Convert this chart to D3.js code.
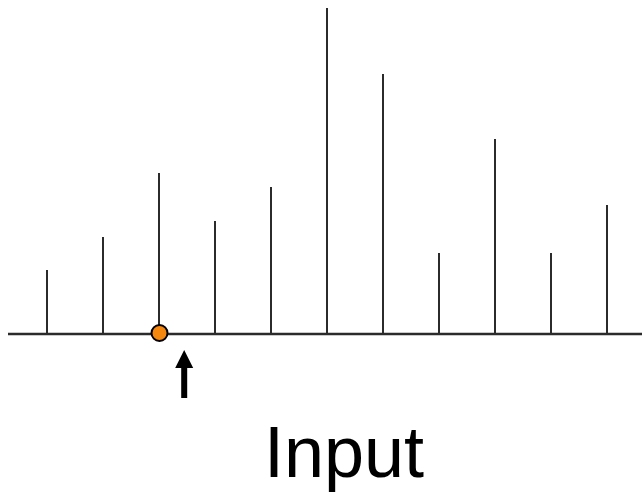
<!DOCTYPE html>
<html>
<head>
<meta charset="utf-8">
<script src="https://cdn.jsdelivr.net/npm/d3@7"></script>
<style>
  body { margin: 0; background: white; }
  svg { display: block; }
</style>
</head>
<body>
<div id="chart"></div>
<script>
var width = 642;
var height = 494;

// sample index and sample heights
var samples = [0, 1, 2, 3, 4, 5, 6, 7, 8, 9, 10];
var values = [64, 97, 161, 113, 147, 326, 260, 81, 195, 81, 129];
var markedSample = 2;   // orange dot
var arrowAt = 2.45;     // arrow position between samples
var label = "Input";

var svg = d3.select("#chart")
  .append("svg")
  .attr("width", width)
  .attr("height", height);

var x = d3.scaleLinear()
  .domain([0, 10])
  .range([47, 607]);

var y = d3.scaleLinear()
  .domain([0, 326])
  .range([334, 8]);

// baseline
svg.append("line")
  .attr("x1", 8)
  .attr("x2", width)
  .attr("y1", y(0))
  .attr("y2", y(0))
  .attr("stroke", "#2b2b2b")
  .attr("stroke-width", 2.5);

// stems
svg.selectAll(".stem")
  .data(samples)
  .enter()
  .append("line")
  .attr("class", "stem")
  .attr("x1", function(d) { return x(d); })
  .attr("x2", function(d) { return x(d); })
  .attr("y1", y(0))
  .attr("y2", function(d, i) { return y(values[i]); })
  .attr("stroke", "#2b2b2b")
  .attr("stroke-width", 2);

// marked sample
svg.append("circle")
  .attr("cx", x(markedSample) + 0.5)
  .attr("cy", y(0) - 1)
  .attr("r", 8)
  .attr("fill", "#f5870f")
  .attr("stroke", "black")
  .attr("stroke-width", 2);

// arrow pointing up
var ax = x(arrowAt);
svg.append("line")
  .attr("x1", ax)
  .attr("x2", ax)
  .attr("y1", 398)
  .attr("y2", 366)
  .attr("stroke", "black")
  .attr("stroke-width", 6);

svg.append("path")
  .attr("d", "M" + (ax - 9) + ",368 L" + ax + ",350 L" + (ax + 9) + ",368 Z")
  .attr("fill", "black");

// caption
svg.append("text")
  .attr("x", 344)
  .attr("y", 477)
  .attr("text-anchor", "middle")
  .attr("font-family", "Liberation Sans, Arial, sans-serif")
  .attr("font-size", 72)
  .attr("fill", "black")
  .text(label);
</script>
</body>
</html>
